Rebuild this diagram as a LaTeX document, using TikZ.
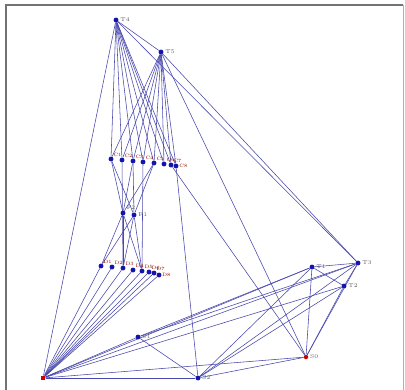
\documentclass[tikz,border=0pt]{standalone}
\usetikzlibrary{positioning,backgrounds}
\definecolor{edgeblue}{RGB}{72,72,172}
\definecolor{dotblue}{RGB}{20,20,170}

\begin{document}
\begin{tikzpicture}[x=0.025cm,y=-0.025cm,
  vtx/.style={circle,fill=dotblue,inner sep=0pt,minimum size=3.5pt},
  src/.style={rectangle,fill=red!80!black,inner sep=0pt,minimum size=3.2pt},
  lbl/.style={font=\fontsize{4}{4}\selectfont,text=black!65,inner sep=1pt},
  rlbl/.style={font=\fontsize{3.4}{3.4}\selectfont,text=red!55!black,inner sep=0.3pt},
  edge/.style={draw=edgeblue,line width=0.4pt}]
\useasboundingbox (0,0) rectangle (405,389);

% tops
\node[vtx,label={[lbl]right:T4}] (T4) at (116,20) {};
\node[vtx,label={[lbl]right:T5}] (T5) at (161,52) {};
\node[vtx,label={[lbl]right:T3}] (T3) at (358,263) {};
\node[vtx,label={[lbl]right:T1}] (T1) at (312,267) {};
\node[vtx,label={[lbl]right:T2}] (T2) at (344,286) {};

% middle
\node[vtx,label={[lbl]above right:F2}] (F2) at (123,213) {};
\node[vtx,label={[lbl]right:F1}] (F1) at (134,215) {};

% rows
\foreach \x/\y/\p [count=\i] in {111/159/above right,122/160/above right,133/161/above right,
    143/162/above right,154/163/above right,164/164/above right,171/165/above right,176/166/right}
  \node[vtx,label={[rlbl]\p:C\i}] (u\i) at (\x,\y) {};
\foreach \x/\y/\p [count=\i] in {101/266/above right,112/267/above right,123/268/above right,
    133/270/above right,142/271/above right,149/272/above right,154/273/above right,159/275/right}
  \node[vtx,label={[rlbl]\p:D\i}] (l\i) at (\x,\y) {};

% bottom
\node[src] (bl) at (43,378) {};
\node[vtx,label={[lbl]right:S1}] (S1) at (138,337) {};
\node[vtx,label={[lbl]right:S2}] (S2) at (198,378) {};
\node[circle,fill=red!80!black,inner sep=0pt,minimum size=3.2pt,label={[lbl]right:S0}] (S0) at (306,357) {};

\begin{scope}[on background layer]
\draw[black!55,line width=0.8pt] (6,392) -- (6,5) -- (403,5);
\draw[black!30,line width=0.6pt] (403,5) -- (403,392);
\foreach \i in {1,...,8} {
  \draw[edge] (T4) -- (u\i);
  \draw[edge] (T5) -- (u\i);
  \draw[edge] (l\i) -- (bl);
}
\foreach \i in {1,3,5} {
  \draw[edge] (u\i) -- (F1);
  \draw[edge] (u\i) -- (F2);
  \draw[edge] (F1) -- (l\i);
  \draw[edge] (F2) -- (l\i);
}
\foreach \a/\b in {T4/T5,T4/T3,T5/T3,T4/bl,T5/S0,u7/S0,u8/S2,u2/l3,u4/l5,
    bl/S1,bl/S2,bl/S0,bl/T1,bl/T2,bl/T3,S1/S2,S1/T1,S1/T3,
    S2/S0,S2/T1,S2/T2,S2/T3,S0/T1,S0/T2,S0/T3,T1/T3,T1/T2,T2/T3}
  \draw[edge] (\a) -- (\b);
\end{scope}
\end{tikzpicture}
\end{document}
